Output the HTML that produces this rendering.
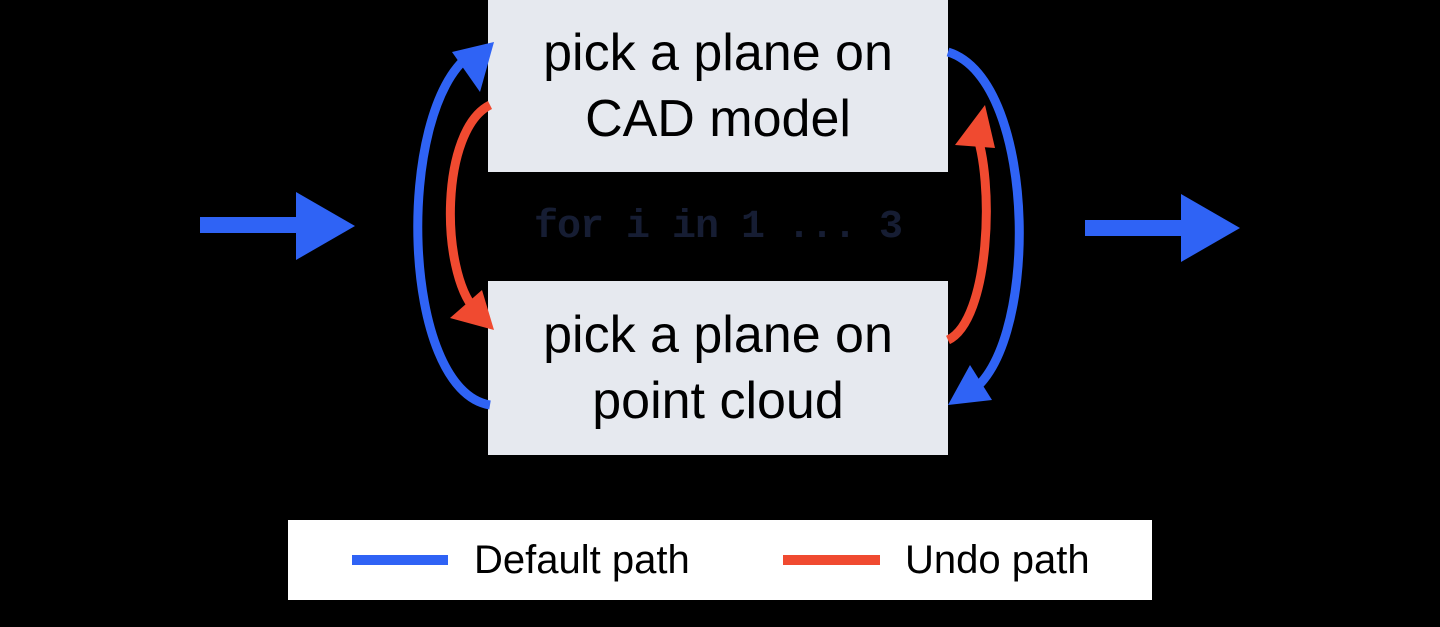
<!DOCTYPE html>
<html><head><style>
html,body{margin:0;padding:0;background:#000;width:1440px;height:627px;overflow:hidden}
.box{position:absolute;background:#e6e9ef;color:#000;font-family:"Liberation Sans",sans-serif;font-size:52px;line-height:66px;text-align:center;display:flex;align-items:center;justify-content:center}
</style></head><body>
<div class="box" style="left:488px;top:0;width:460px;height:172px">pick a plane on<br>CAD model</div>
<div class="box" style="left:488px;top:281px;width:460px;height:174px">pick a plane on<br>point cloud</div>
<div style="position:absolute;left:488px;width:460px;top:202px;text-align:center;font-family:'Liberation Mono',monospace;font-weight:bold;font-size:40px;line-height:52px;color:#161d33;letter-spacing:-1px">for i in 1 ... 3</div>
<svg width="1440" height="627" style="position:absolute;left:0;top:0">
<g fill="none" stroke-width="9">
<path d="M490,405 C400,390 395,110 470,55" stroke="#2f63f5"/>
<path d="M948,52 C1040,80 1040,360 965,395" stroke="#2f63f5"/>
<path d="M490,105 C440,130 440,270 475,310" stroke="#f04a30"/>
<path d="M948,340 C990,320 995,180 975,130" stroke="#f04a30"/>
</g>
<polygon points="494,42 452,52 480,92" fill="#2f63f5"/>
<polygon points="494,330 450,318 482,290" fill="#f04a30"/>
<polygon points="985,105 955,145 995,148" fill="#f04a30"/>
<polygon points="948,405 970,365 992,400" fill="#2f63f5"/>
<rect x="200" y="217" width="100" height="16" fill="#2f63f5"/>
<polygon points="296,192 355,226 296,260" fill="#2f63f5"/>
<rect x="1085" y="220" width="100" height="16" fill="#2f63f5"/>
<polygon points="1181,194 1240,228 1181,262" fill="#2f63f5"/>
</svg>
<div style="position:absolute;left:288px;top:520px;width:864px;height:80px;background:#fff"></div>
<div style="position:absolute;left:352px;top:555px;width:96px;height:10px;background:#2f63f5"></div>
<div style="position:absolute;left:783px;top:555px;width:97px;height:10px;background:#f04a30"></div>
<div style="position:absolute;left:474px;top:537px;font-family:'Liberation Sans',sans-serif;font-size:40px;line-height:46px;color:#000">Default path</div>
<div style="position:absolute;left:905px;top:537px;font-family:'Liberation Sans',sans-serif;font-size:40px;line-height:46px;color:#000">Undo path</div>
</body></html>
